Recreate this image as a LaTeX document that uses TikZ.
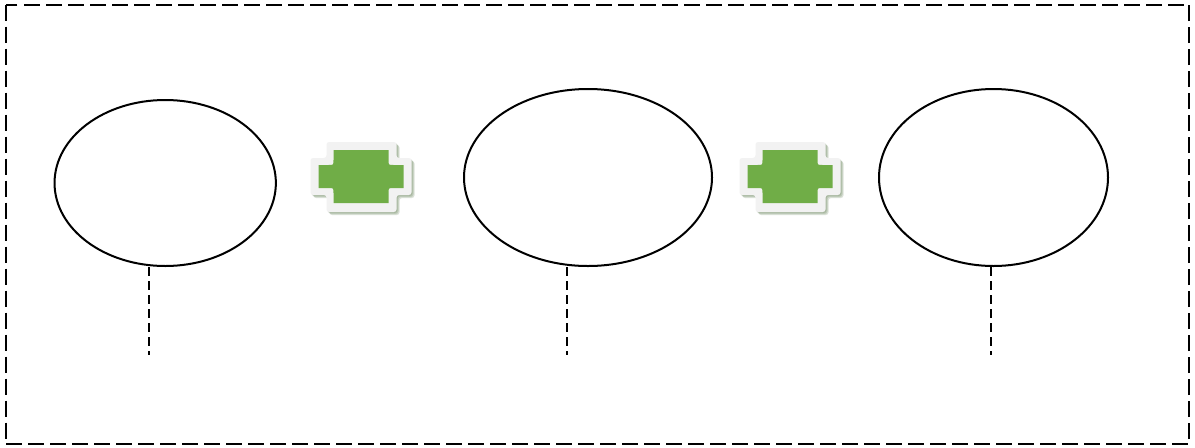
\documentclass[tikz,border=0pt]{standalone}
\usetikzlibrary{shapes.geometric}
\definecolor{plugGreen}{HTML}{70AD47}
\definecolor{plugRim}{HTML}{F2F2F2}
\definecolor{plugShadow}{HTML}{4F6F40}
\tikzset{
  x=0.75pt,y=-0.75pt,
  blob/.style={draw=black,line width=1.5pt,ellipse,inner sep=0pt,fill=white},
  frameline/.style={draw=black,line width=1.5pt,dash pattern=on 12pt off 4.5pt},
  drop/.style={draw=black,line width=1.2pt,dash pattern=on 6.6pt off 3.9pt},
  rim/.style={fill=plugRim,draw=none},
  core/.style={fill=plugGreen,draw=none},
  shade/.style={fill=plugShadow,draw=none,opacity=0.2},
}
\newcommand{\plateouter}{(16,0) -- (86,0) -- (86,16) -- (101,16) -- (101,53) -- (86,53) -- (86,70) -- (16,70) -- (16,53) -- (0,53) -- (0,16) -- (16,16) -- cycle}
\newcommand{\platecore}{(23,8) -- (78,8) -- (78,18) .. controls (78,23) .. (83,23) -- (93,23) -- (93,46) -- (83,46) .. controls (78,46) .. (78,51) -- (78,61) -- (23,61) -- (23,51) .. controls (23,46) .. (18,46) -- (8,46) -- (8,23) -- (18,23) .. controls (23,23) .. (23,18) -- cycle}
\newcommand{\plate}[2]{%
  \begin{scope}[shift={(#1,#2)}]
    \foreach \d in {1,2,3}{
      \begin{scope}[shift={(\d,\d)}]
        \path[shade,rounded corners=2pt] \plateouter;
      \end{scope}
    }
    \path[rim,rounded corners=2pt] \plateouter;
    \path[core] \platecore;
  \end{scope}}
\begin{document}
\begin{tikzpicture}
\useasboundingbox (0,0) rectangle (1195,447);
\path[fill=white] (0,0) rectangle (1195,447);
\draw[frameline] (5.5,4.5) rectangle (1189,444);
\node[blob,minimum width=166pt,minimum height=124.5pt] (e1) at (165.2,183) {};
\node[blob,minimum width=186pt,minimum height=132.75pt] (e2) at (588,177.5) {};
\node[blob,minimum width=171.75pt,minimum height=132.75pt] (e3) at (993.5,177.5) {};
\coordinate (c1) at (149,355);
\coordinate (c2) at (567,355);
\coordinate (c3) at (991,355);
\draw[drop] (c1 |- e1.south) -- (c1);
\draw[drop] (c2 |- e2.south) -- (c2);
\draw[drop] (c3 |- e3.south) -- (c3);
\plate{310.5}{142}
\plate{739.5}{142}
\end{tikzpicture}
\end{document}
